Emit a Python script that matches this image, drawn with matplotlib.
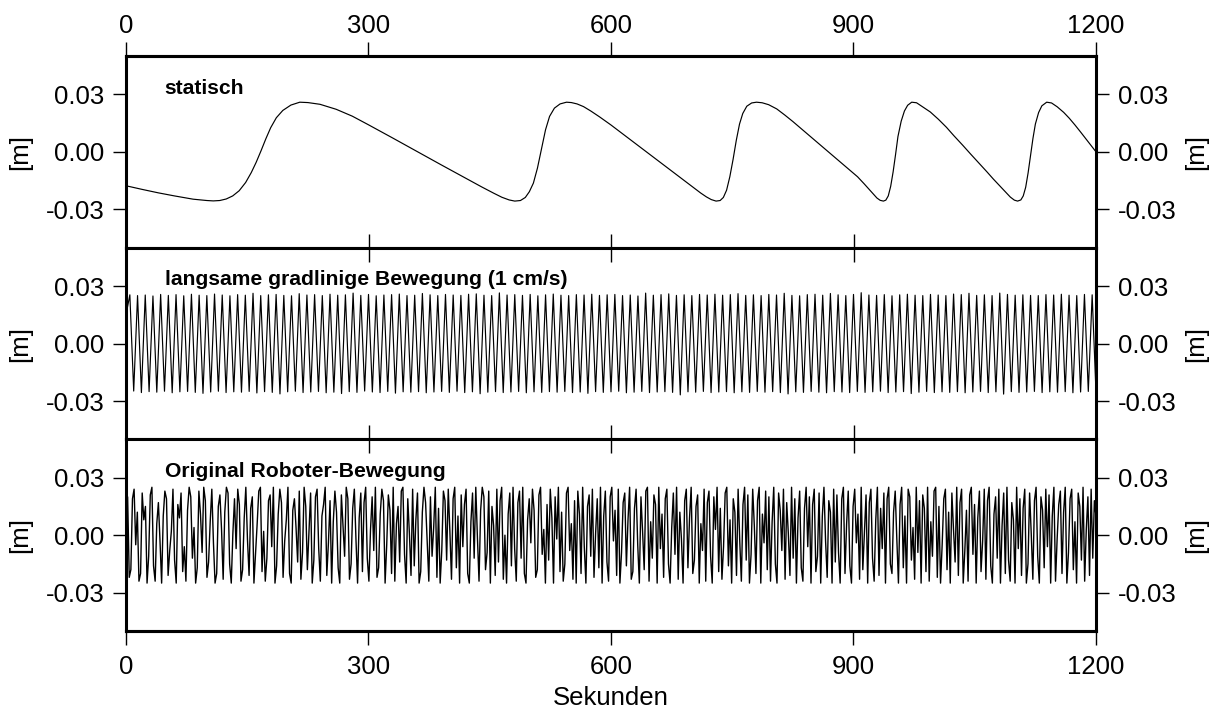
import numpy as np
import matplotlib
matplotlib.use("Agg")
import matplotlib.pyplot as plt

plt.rcParams['font.family'] = ['Liberation Sans', 'DejaVu Sans']
plt.rcParams['axes.unicode_minus'] = False

# --- panel 1: statisch (time [s], value [mm]) ---
t1 = [0, 20, 40, 60, 83, 100, 108, 116, 124, 132, 140, 148, 155, 161, 167, 173, 179, 186,
      194, 204, 215, 225, 240, 260, 280, 300, 330, 360, 390, 420, 440, 455, 465, 474, 481,
      488, 494, 499, 504, 509, 514, 519, 524, 530, 537, 545, 551, 558, 566, 575, 586, 600,
      615, 630, 645, 660, 675, 690, 702, 711, 718, 724, 730, 735, 739, 743, 747, 751, 755,
      759, 763, 768, 774, 780, 787, 795, 805, 815, 825, 835, 845, 855, 865, 875, 885, 895,
      905, 913, 920, 925, 929, 933, 937, 940, 943, 946, 949, 952, 955, 959, 963, 967, 972,
      978, 985, 995, 1005, 1015, 1024, 1035, 1045, 1055, 1065, 1073, 1081, 1088, 1094, 1099,
      1103, 1107, 1110, 1113, 1116, 1119, 1122, 1125, 1129, 1133, 1139, 1145, 1152, 1160,
      1167, 1174, 1181, 1188, 1194, 1200]
v1 = [-17.7, -19.6, -21.4, -23.0, -24.7, -25.4, -25.6, -25.4, -24.6, -23.0, -20.3, -16.0,
      -10.8, -5.5, 0.5, 6.8, 12.6, 17.8, 21.6, 24.4, 25.9, 25.7, 24.8, 22.2, 18.6, 14.1, 7.2,
      0.2, -6.8, -13.7, -18.3, -21.6, -23.7, -25.1, -25.7, -25.4, -23.8, -20.8, -16.3, -8.5,
      1.5, 11.5, 18.5, 22.8, 25.0, 25.9, 25.7, 25.0, 23.6, 21.3, 18.2, 14.0, 9.2, 4.4, -0.4,
      -5.2, -10.0, -14.8, -18.6, -21.5, -23.5, -24.9, -25.7, -25.4, -23.8, -20.0, -13.0,
      -4.0, 6.0, 14.5, 20.0, 23.8, 25.5, 25.9, 25.6, 24.6, 22.4, 19.2, 15.8, 12.2, 8.6, 5.0,
      1.4, -2.2, -5.8, -9.4, -13.0, -16.6, -19.9, -22.3, -24.1, -25.3, -25.7, -25.2, -23.0,
      -18.0, -10.5, -1.5, 8.0, 16.0, 21.3, 24.3, 25.9, 25.6, 23.6, 20.8, 17.0, 12.8, 8.5, 3.5,
      -1.2, -5.8, -10.4, -14.2, -17.8, -21.0, -23.6, -25.2, -25.7, -25.1, -23.0, -18.5,
      -11.0, -2.0, 7.0, 14.5, 20.5, 24.0, 25.9, 25.5, 23.5, 20.6, 17.5, 14.0, 10.3, 6.5, 3.3,
      0.0]

# --- panel 2: langsame gradlinige Bewegung, peaks / troughs [mm] ---
p2_peaks = [25.4, 25.0, 25.3, 24.8, 25.6, 25.1, 25.5, 24.9, 25.7, 25.2, 25.0, 25.8, 25.3, 24.9,
            25.5, 25.2, 26.2, 25.0, 25.4, 25.6, 25.1, 24.9, 26.0, 25.3, 25.5, 25.0, 25.7, 25.2,
            25.4, 26.3, 25.1, 25.6, 24.9, 25.3, 25.5, 25.8, 25.0, 25.2, 26.1, 25.4, 25.0, 25.6,
            25.3, 25.1, 25.7, 25.9, 25.2, 25.0, 26.4, 25.3, 25.5, 25.1, 25.6, 24.9, 25.4, 25.8,
            25.2, 25.0, 25.5, 25.3, 25.7, 25.1, 25.4, 25.6, 25.0, 25.3, 24.8, 26.3, 25.2, 25.5,
            25.9, 25.1, 25.4, 25.0, 25.6, 25.3, 25.7, 25.2, 25.5, 26.0, 25.1, 25.4, 25.0, 25.6,
            25.3, 26.2, 25.1, 24.9, 25.5, 25.7, 25.2, 26.1, 25.4, 25.0, 25.6, 26.5, 25.3, 25.1,
            25.5, 24.9, 25.4, 25.7, 25.2, 25.0, 25.6, 25.3, 25.0, 25.8, 25.5, 26.2, 25.1, 25.4,
            25.0, 26.3, 25.6, 25.2, 25.4, 25.1, 25.0, 25.5, 25.3, 25.7, 25.2, 25.0, 25.6, 25.4]
p2_troughs = [-24.8, -25.6, -25.1, -25.4, -24.9, -25.7, -25.2, -25.0, -25.5, -26.0, -25.3, -24.9,
              -25.6, -25.2, -25.4, -25.0, -25.8, -25.1, -25.5, -26.3, -25.2, -24.9, -25.6,
              -25.3, -25.0, -25.7, -25.4, -26.1, -25.1, -25.5, -24.8, -25.3, -25.6, -25.0,
              -25.9, -25.2, -25.4, -25.1, -25.7, -25.3, -25.0, -25.5, -24.9, -25.6, -25.2,
              -26.2, -25.4, -25.1, -25.6, -25.3, -25.0, -25.7, -25.2, -25.5, -25.1, -25.4,
              -25.0, -25.6, -25.3, -26.0, -25.1, -25.5, -25.2, -24.9, -25.7, -25.4, -25.0,
              -25.6, -25.3, -25.1, -25.5, -26.8, -25.2, -25.4, -25.0, -25.6, -25.3, -25.1,
              -25.7, -25.2, -25.5, -25.0, -25.4, -25.1, -25.6, -26.3, -25.2, -25.5, -25.0,
              -25.4, -25.7, -25.1, -25.3, -25.6, -25.0, -25.5, -25.2, -24.9, -25.6, -25.3,
              -25.1, -26.1, -25.4, -25.0, -25.6, -25.2, -25.5, -25.1, -25.7, -25.3, -25.0,
              -25.6, -25.2, -26.4, -25.1, -25.5, -25.3, -25.0, -25.6, -25.2, -25.4, -25.1,
              -25.7, -25.3, -25.0, -25.5]
p2_start = 15.0
p2_period = 9.52  # s, one oscillation

# --- panel 3: Original Roboter-Bewegung, samples every 2 s [mm] ---
v3 = [14, 20, -22, -18, 19, 24, -5, 12, -24, -20, 22, 8, 15, -25, -11, 21, 25, -16, -24, 6,
      17, -3, -25, 10, 23, 19, -21, -8, 2, 24, -13, -25, 16, 9, 22, -19, -6, -24, 13, 25,
      20, -12, 4, -25, -17, 23, 11, -9, 25, 18, -22, -14, 7, 24, -4, -25, -20, 15, 21, 3,
      -23, 12, 25, 22, -15, -25, 1, 19, -7, 24, 16, -24, -18, 9, 25, -2, -21, 14, 20, -25,
      -10, 6, 23, 25, -19, 2, -24, -12, 18, 21, -6, 25, -25, -16, 11, 24, 17, -22, -3, 8,
      25, -20, -25, 13, 19, 4, -14, 23, -23, -9, 25, 15, -18, 2, 22, -25, -13, 20, 24, -7,
      -24, 10, 16, 25, -21, -4, 18, -25, 7, 23, 12, -17, -25, 21, 5, -11, 25, 19, -23, -15,
      14, 24, -2, -25, 9, 22, -19, 17, 25, -12, -24, 3, 20, -8, 25, -22, -17, 11, 24, 18,
      -25, -5, 21, 13, -20, 25, -24, 6, 15, -14, 23, 25, -10, -25, 19, 1, -21, 24, -16, 8,
      22, -25, -19, 12, 25, 17, -3, -24, 20, -11, 4, 25, -22, 14, -25, -8, 23, 18, -13, 24,
      2, -23, 19, 25, -17, 10, -25, 21, -6, 16, 24, -20, -25, 7, 22, -12, 25, -1, -24, 13,
      25, 20, -18, -9, 23, -25, 15, 5, -21, 24, -14, 18, 25, -23, 0, -25, 11, 22, -16, 25,
      -7, -24, 17, 23, -12, 25, -20, -25, 8, 19, -4, 24, 13, -22, -18, 21, 25, -10, 3, -25,
      16, -13, 24, 9, -25, 20, -2, 25, -19, 12, -24, -15, 22, 25, -8, 6, -23, 18, -25, 23,
      11, -20, 25, -6, -25, 15, 21, -11, 24, -22, 1, 19, -17, 25, -25, 10, 23, -14, -24, 20,
      25, -3, 13, -21, 24, -25, -9, 17, 22, -16, 8, 25, -23, -19, 14, 24, -5, -25, 20, 2,
      -18, 23, 25, -24, 7, -12, 21, 16, -25, 25, -7, 11, -22, 19, 24, -15, -25, 4, 22, -10,
      25, -23, 12, -2, -25, 18, 24, -17, 9, 25, -20, -13, 15, 21, -25, 6, -8, 24, -24, 17,
      23, -11, -25, 20, 3, 25, -19, 14, -23, -6, 22, 25, -16, 8, -25, 19, 12, -21, 24, -3,
      -24, 16, 25, -13, 21, -25, -10, 24, 5, -20, 18, 25, -25, 11, -4, 23, -18, 20, -24, 7,
      25, -15, -25, 22, 13, -8, 24, -23, 17, 1, -21, 25, -12, 19, -25, 9, 23, -17, -24, 14,
      25, -6, 20, -25, 16, 24, -19, -11, 22, -25, 10, 25, -3, -22, 18, 12, -25, 24, -14, 21,
      -9, -25, 19, 25, -20, 6, 23, -16, -25, 15, 24, -4, 11, -23, 25, -18, 2, 21, -25, 17,
      24, -12, -24, 8, 25, -21, 14, -7, 22, -25, 19, 25, -15, -20, 12, 23, -2, -25, 16, 25,
      -17, 10, -25, 24, 20, -13, 4, -23, 25, -9, 18, -25, 21, 14, -19, 25, -24, 7, -11, 23,
      25, -22, 15, -25, -5, 19, 24, -18, 12, -25, 22, 3, -14, 25, -21, 17, 24, -25, -8, 13,
      -24, 21, 25, -10, 16, -25, 9, 23, -19, -3, 24, -23, 18, 25, -16, -25, 11, 20, -12, 24,
      -25, 5, 22, -20, 25, -13, -24, 17, 8, -25, 25, -7, 19, -21, 14, 24, -25, -15, 22, 1,
      -23, 18, 25, -11, -25, 20, 13, -17, 24, -6, 21, -25, 10, 25, -24, -2, 16, 23, -20, 12,
      25, -25, -9, 19, 24, -18, 7, -25, 22, 15, -13, 25, -24, 3, 20, -21, 24, -12, 18, 10]

titles = ['statisch', 'langsame gradlinige Bewegung (1 cm/s)', 'Original Roboter-Bewegung']
xticks = [0, 300, 600, 900, 1200]
yticks = [-0.03, 0.0, 0.03]

# build series
x1 = np.array(t1, dtype=float)
y1 = np.array(v1) / 1000.0

zig = [p2_start]
for a, b in zip(p2_peaks, p2_troughs):
    zig += [a, b]
y2 = np.array(zig) / 1000.0
x2 = np.arange(len(y2)) * p2_period / 2
x2 = x2 * 1200.0 / x2[-1]

y3 = np.array(v3) / 1000.0
x3 = np.linspace(0, 1200, len(y3))

series = [(x1, y1), (x2, y2), (x3, y3)]
widths = [0.85, 0.85, 1.0]

fig = plt.figure(figsize=(12.16, 7.11), dpi=100)
left, width = 126 / 1216, 970 / 1216
ph = 191.67 / 711
axes = []
for i in range(3):
    b = 1 - (56 + (i + 1) * 191.67) / 711
    axes.append(fig.add_axes([left, b, width, ph]))

fs = 18.5
for i, ax in enumerate(axes):
    x, y = series[i]
    ax.plot(x, y, color='black', lw=widths[i])
    ax.set_xlim(0, 1200)
    ax.set_ylim(-0.05, 0.05)
    ax.set_xticks(xticks)
    ax.set_yticks(yticks)
    ax.yaxis.set_major_formatter(matplotlib.ticker.FormatStrFormatter('%.2f'))
    for s in ax.spines.values():
        s.set_linewidth(2.2)
    ax.tick_params(axis='y', direction='out', length=9.5, width=1.0, left=True, right=True,
                   labelleft=True, labelright=True, labelsize=fs, pad=6)
    ax.tick_params(axis='x', direction='in', length=10, width=1.0, top=True, bottom=True,
                   labelbottom=False, labeltop=False)
    ax.text(48, 0.0333, titles[i], fontsize=15.2, fontweight='bold', va='center', ha='left')
    ax.text(-106 / 970, 0.5, '[m]', transform=ax.transAxes, rotation=90,
            va='center', ha='center', fontsize=fs)
    ax.text(1 + 100 / 970, 0.5, '[m]', transform=ax.transAxes, rotation=90,
            va='center', ha='center', fontsize=fs)

# outward ticks with labels on the top of the first and bottom of the last panel
axes[0].tick_params(axis='x', top=False)
sec = axes[0].secondary_xaxis('top')
sec.set_xticks(xticks)
sec.tick_params(direction='out', length=10, width=1.0, labelsize=fs, pad=3)
sec.spines['top'].set_linewidth(2.2)

axes[2].tick_params(axis='x', bottom=False)
sec2 = axes[2].secondary_xaxis('bottom')
sec2.set_xticks(xticks)
sec2.tick_params(direction='out', length=10, width=1.0, labelsize=fs, pad=7)
sec2.spines['bottom'].set_linewidth(2.2)
sec2.set_xlabel('Sekunden', fontsize=fs, labelpad=5)

fig.savefig('out.png', dpi=100, facecolor='white')
